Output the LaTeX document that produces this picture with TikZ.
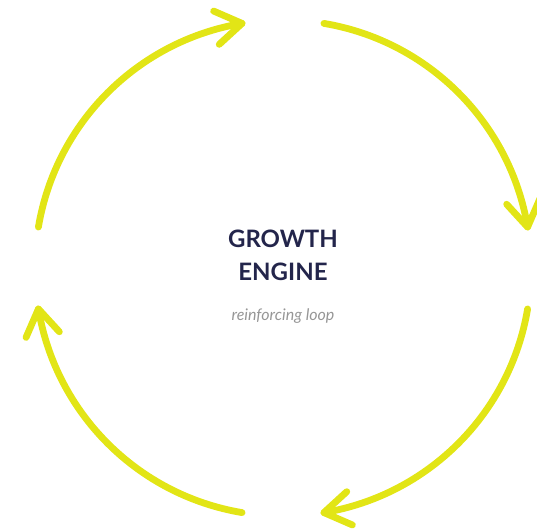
\documentclass[tikz,border=0pt]{standalone}
\usepackage{fontspec}
\setmainfont{Lato}
\definecolor{loopyellow}{RGB}{226,229,22}
\definecolor{titlenavy}{RGB}{35,37,75}
\definecolor{subgray}{RGB}{150,150,150}
\begin{document}
\begin{tikzpicture}[x=1pt,y=1pt,
  loopline/.style={draw=loopyellow, line width=6.8pt, line cap=round, line join=round},
  titletext/.style={font=\bfseries\fontsize{24}{33}\selectfont, text=titlenavy, inner sep=0pt},
  subtext/.style={font=\itshape\fontsize{16}{18}\selectfont, text=subgray, inner sep=0pt}]
\useasboundingbox (-283,-263) rectangle (254,268);
\coordinate (c) at (0,0);
\foreach \a in {0,90,180,270} {
  \draw[loopline] (\a+80.5:248) arc[start angle=\a+80.5, end angle=\a+9.5, radius=248];
  \draw[loopline] (\a+9.5:248) ++(\a+132.5:31) -- (\a+9.5:248) -- ++(\a+66.5:31);
}
\node[titletext, anchor=base] (t1) at (0,21) {GROWTH};
\node[titletext, anchor=base] (t2) at (0,-12) {ENGINE};
\node[subtext, anchor=base] (sub) at (0,-52) {reinforcing loop};
\end{tikzpicture}
\end{document}
